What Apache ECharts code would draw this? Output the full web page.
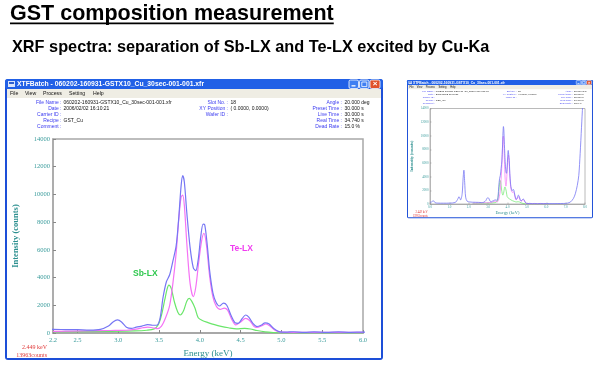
<!DOCTYPE html>
<html><head><meta charset="utf-8">
<script src="https://cdn.jsdelivr.net/npm/echarts@6/dist/echarts.min.js"></script>
<style>html,body{margin:0;padding:0;background:#fff}#c{width:600px;height:370px}</style>
</head><body><div id="c"></div>
<script>
// ---------- data ----------
const totalEnergy = [0.00,0.08,0.17,0.26,0.40,0.70,1.00,1.30,1.42,1.50,1.58,1.66,1.71,1.75,1.79,1.84,1.92,2.05,2.20,2.35,2.50,2.65,2.78,2.88,2.94,2.99,3.04,3.10,3.16,3.22,3.29,3.36,3.42,3.47,3.51,3.55,3.59,3.63,3.67,3.71,3.74,3.77,3.79,3.81,3.84,3.88,3.92,3.95,3.98,4.01,4.04,4.06,4.09,4.12,4.16,4.20,4.24,4.29,4.33,4.38,4.43,4.47,4.52,4.56,4.60,4.65,4.70,4.75,4.80,4.85,4.91,4.97,5.05,5.15,5.28,5.40,5.55,5.70,5.85,6.00,6.30,6.60,6.90,7.10,7.25,7.40,7.50,7.60,7.68,7.75,7.82,7.88,7.94,8.00];
const totalCounts = [250,300,480,200,130,120,130,220,650,1070,600,1500,3800,4950,3200,1000,400,300,260,250,240,210,260,500,820,940,800,420,330,420,500,600,560,560,1000,2600,3700,4200,5200,6300,8200,10600,11350,10900,8700,6200,4700,4500,5300,6900,7850,7800,6400,4500,2900,2200,1950,2150,2000,1300,750,700,1050,1300,1150,700,470,560,730,650,300,100,60,90,50,80,40,80,50,70,60,70,80,130,300,800,1500,2700,4200,7400,11250,14500,17000,19000];
const teEnergy = [2.20,2.60,2.90,3.10,3.22,3.30,3.36,3.42,3.48,3.53,3.58,3.63,3.67,3.71,3.74,3.77,3.79,3.81,3.84,3.88,3.92,3.95,3.98,4.02,4.05,4.08,4.12,4.16,4.20,4.25,4.30,4.34,4.39,4.44,4.50,4.56,4.61,4.66,4.70,4.76,4.81,4.86,4.92,5.00,5.20,5.50,6.00];
const teCounts = [120,150,180,200,280,380,430,380,320,500,1100,2000,3600,5800,8100,9800,9950,9200,6500,3600,2620,3300,4800,6600,7200,6400,4100,2600,1950,1700,1800,1650,1000,580,800,1060,900,500,400,520,650,500,200,60,40,40,40];
const sbEnergy = [2.20,2.80,3.20,3.35,3.44,3.49,3.53,3.57,3.60,3.62,3.65,3.69,3.73,3.76,3.80,3.84,3.87,3.90,3.94,3.98,4.03,4.10,4.18,4.26,4.35,4.45,4.55,4.62,4.70,4.80,4.90,5.00,6.00];
const sbCounts = [100,110,150,200,300,600,1300,2400,3200,3450,3200,2200,1500,1300,1600,2300,2500,2300,1800,1100,900,750,600,480,380,300,330,290,180,80,30,10,10];
const mainXTicks = [2.2,2.5,3.0,3.5,4.0,4.5,5.0,5.5,6.0];
const thumbXTicks = [0,1,2,3,4,5,6,7,8];
const yMax = 14000, yStep = 2000;

// ---------- helpers ----------
const pairs = (xs, ys) => xs.map((x, i) => [x, ys[i]]);
const SANS = '"Liberation Sans", Arial, sans-serif';
const SERIF = '"Liberation Serif", "DejaVu Serif", serif';
const TEAL = '#3a9c9c';

function txt(x, y, t, size, fill, align, weight, family, z) {
  return { type: 'text', silent: true, z: z == null ? -5 : z, x: x, y: y,
    style: { text: t, fill: fill, fontSize: size, fontWeight: weight || 'normal', fontFamily: family || SANS,
      align: align || 'left', verticalAlign: 'middle', textAlign: align || 'left', textVerticalAlign: 'middle' } };
}

function chrome(ox, oy, s) {
  const els = [];
  const W = 378, H = 281;
  const rect = (x, y, w, h, fill, r, stroke, z) => els.push({
    type: 'rect', silent: true, z: z == null ? -10 : z,
    shape: { x: ox + x * s, y: oy + y * s, width: w * s, height: h * s, r: (r || 0) * s },
    style: { fill: fill || 'none', stroke: stroke || null, lineWidth: stroke ? Math.max(0.5, 0.8 * s) : 0 }
  });
  const text = (x, y, t, size, fill, align, weight, family) => els.push(txt(ox + x * s, oy + y * s, t, +(size * s).toFixed(2), fill, align, weight, family));
  rect(0, 0, W, H, '#1d4fd8', 3);
  rect(0, 0, W, 10, '#2160e6', 3);
  rect(2, 10, W - 4, H - 12, '#ffffff');
  rect(2, 10, W - 4, 9, '#efede4');
  rect(3, 2, 7, 6, '#d9e4fa');
  rect(4, 3, 5, 2, '#2f5fcf');
  text(12, 5.3, 'XTFBatch - 060202-160931-GSTX10_Cu_30sec-001-001.xfr', 6.8, '#ffffff', 'left', 'bold');
  rect(344, 1, 9.5, 8.5, '#3f7ff2', 1.5, '#ffffff', -9);
  rect(346.5, 6.2, 4, 1.3, '#ffffff', 0, null, -8);
  rect(354.5, 1, 9.5, 8.5, '#3f7ff2', 1.5, '#ffffff', -9);
  rect(356.8, 3, 5, 4.6, null, 0, '#ffffff', -8);
  rect(365, 1, 10, 8.5, '#e0522c', 1.5, '#ffffff', -9);
  text(370, 5.2, '×', 8, '#ffffff', 'center', 'bold');
  const menu = [['File', 5], ['View', 20], ['Process', 38], ['Setting', 64], ['Help', 88]];
  menu.forEach(m => text(m[1], 14.3, m[0], 5.2, '#111111'));
  const LBL = '#3a3af0', VAL = '#111111';
  const rows = [24, 30, 36, 42, 48];
  const left = [['File Name :', '060202-160931-GSTX10_Cu_30sec-001-001.xfr'], ['Date :', '2006/02/02 16:10:21'], ['Carrier ID :', ''], ['Recipe :', 'GST_Cu'], ['Comment :', '']];
  const mid = [['Slot No. :', '18'], ['XY Position :', '( 0.0000, 0.0000)'], ['Wafer ID :', '']];
  const right = [['Angle :', '20.000 deg'], ['Preset Time :', '30.000 s'], ['Live Time :', '30.000 s'], ['Real Time :', '34.740 s'], ['Dead Rate :', '15.0 %']];
  left.forEach((r, i) => { text(56.5, rows[i], r[0], 5, LBL, 'right'); if (r[1]) text(58.5, rows[i], r[1], 5, VAL); });
  mid.forEach((r, i) => { text(223, rows[i], r[0], 5, LBL, 'right'); if (r[1]) text(225.5, rows[i], r[1], 5, VAL); });
  right.forEach((r, i) => { text(337, rows[i], r[0], 5, LBL, 'right'); if (r[1]) text(339.5, rows[i], r[1], 5, VAL); });
  text(42, 268, '2.449 keV', 6, '#e03a3a', 'right', 'normal', SERIF);
  text(42, 276, '13963counts', 6, '#e03a3a', 'right', 'normal', SERIF);
  return els;
}

const titleText = 'GST composition measurement';
const titleSize = 21.5;
const mctx = document.createElement('canvas').getContext('2d');
mctx.font = 'bold ' + titleSize + 'px ' + SANS;
const titleW = mctx.measureText(titleText).width;

const graphics = [].concat(
  [txt(10, 14, titleText, titleSize, '#000', 'left', 'bold', SANS, 0),
   { type: 'rect', silent: true, shape: { x: 10, y: 22.5, width: titleW, height: 1.7 }, style: { fill: '#000' } },
   txt(12, 48, 'XRF spectra: separation of Sb-LX and Te-LX excited by Cu-Ka', 16.3, '#000', 'left', 'bold', SANS, 0)],
  chrome(5, 79, 1),
  chrome(407, 80, 0.492),
  [txt(133, 274, 'Sb-LX', 8.5, '#2fc84e', 'left', 'bold', SANS, 100),
   txt(230, 249, 'Te-LX', 8.5, '#f03cf0', 'left', 'bold', SANS, 100)]
);

function xAxisCfg(grid, min, max, ticks, s) {
  return {
    gridIndex: grid, type: 'value', min: min, max: max,
    name: 'Energy (keV)', nameLocation: 'middle', nameGap: 13 * s,
    nameTextStyle: { color: '#2c8f8f', fontFamily: SERIF, fontSize: 9 * s },
    axisLine: { show: true, lineStyle: { color: '#a8a8a8', width: 2 * s } },
    axisTick: { show: true, inside: true, length: 3 * s, customValues: ticks, lineStyle: { color: '#888', width: s } },
    axisLabel: { customValues: ticks, formatter: v => (+v).toFixed(1), color: TEAL, fontFamily: SERIF, fontSize: 6.5 * s, margin: 4 * s },
    splitLine: { show: false }
  };
}
function yAxisCfg(grid, s) {
  return {
    gridIndex: grid, type: 'value', min: 0, max: yMax, interval: yStep,
    name: 'Intensity (counts)', nameLocation: 'middle', nameGap: 33 * s, nameRotate: 90,
    nameTextStyle: { color: '#2c8f8f', fontFamily: SERIF, fontSize: 8.5 * s, fontWeight: 'bold' },
    axisLine: { show: true, lineStyle: { color: '#a8a8a8', width: 1.5 * s } },
    axisTick: { show: true, inside: true, length: 3 * s, lineStyle: { color: '#888', width: s } },
    axisLabel: { formatter: v => String(v), color: TEAL, fontFamily: SERIF, fontSize: 6.5 * s, margin: 3 * s },
    splitLine: { show: false }
  };
}
function lineSeries(name, xi, data, color, w, z) {
  return { name: name, type: 'line', xAxisIndex: xi, yAxisIndex: xi, data: data, showSymbol: false, smooth: 0.3,
    z: z, lineStyle: { color: color, width: w }, itemStyle: { color: color }, silent: true, animation: false, clip: true };
}

const BLUE = '#7676f4', MAG = '#f573f5', GRN = '#6ae66a';
const option = {
  animation: false,
  backgroundColor: '#ffffff',
  grid: [
    { left: 53, top: 139, width: 310, height: 194, show: true, borderColor: '#a8a8a8', borderWidth: 1.5, backgroundColor: '#fff' },
    { left: 430, top: 108.5, width: 155, height: 95.5, show: true, borderColor: '#a8a8a8', borderWidth: 0.8, backgroundColor: '#fff' }
  ],
  xAxis: [xAxisCfg(0, 2.2, 6.0, mainXTicks, 1), xAxisCfg(1, 0, 8, thumbXTicks, 0.492)],
  yAxis: [yAxisCfg(0, 1), yAxisCfg(1, 0.492)],
  series: [
    lineSeries('Sb-LX', 0, pairs(sbEnergy, sbCounts), GRN, 1.2, 3),
    lineSeries('Te-LX', 0, pairs(teEnergy, teCounts), MAG, 1.2, 4),
    lineSeries('Total', 0, pairs(totalEnergy, totalCounts), BLUE, 1.2, 5),
    lineSeries('Sb-LX thumb', 1, pairs(sbEnergy, sbCounts), GRN, 0.7, 3),
    lineSeries('Te-LX thumb', 1, pairs(teEnergy, teCounts), MAG, 0.7, 4),
    lineSeries('Total thumb', 1, pairs(totalEnergy, totalCounts), BLUE, 0.8, 5)
  ],
  graphic: graphics
};
const chart = echarts.init(document.getElementById('c'), null, { renderer: 'canvas' });
chart.setOption(option);
</script>
</body></html>
